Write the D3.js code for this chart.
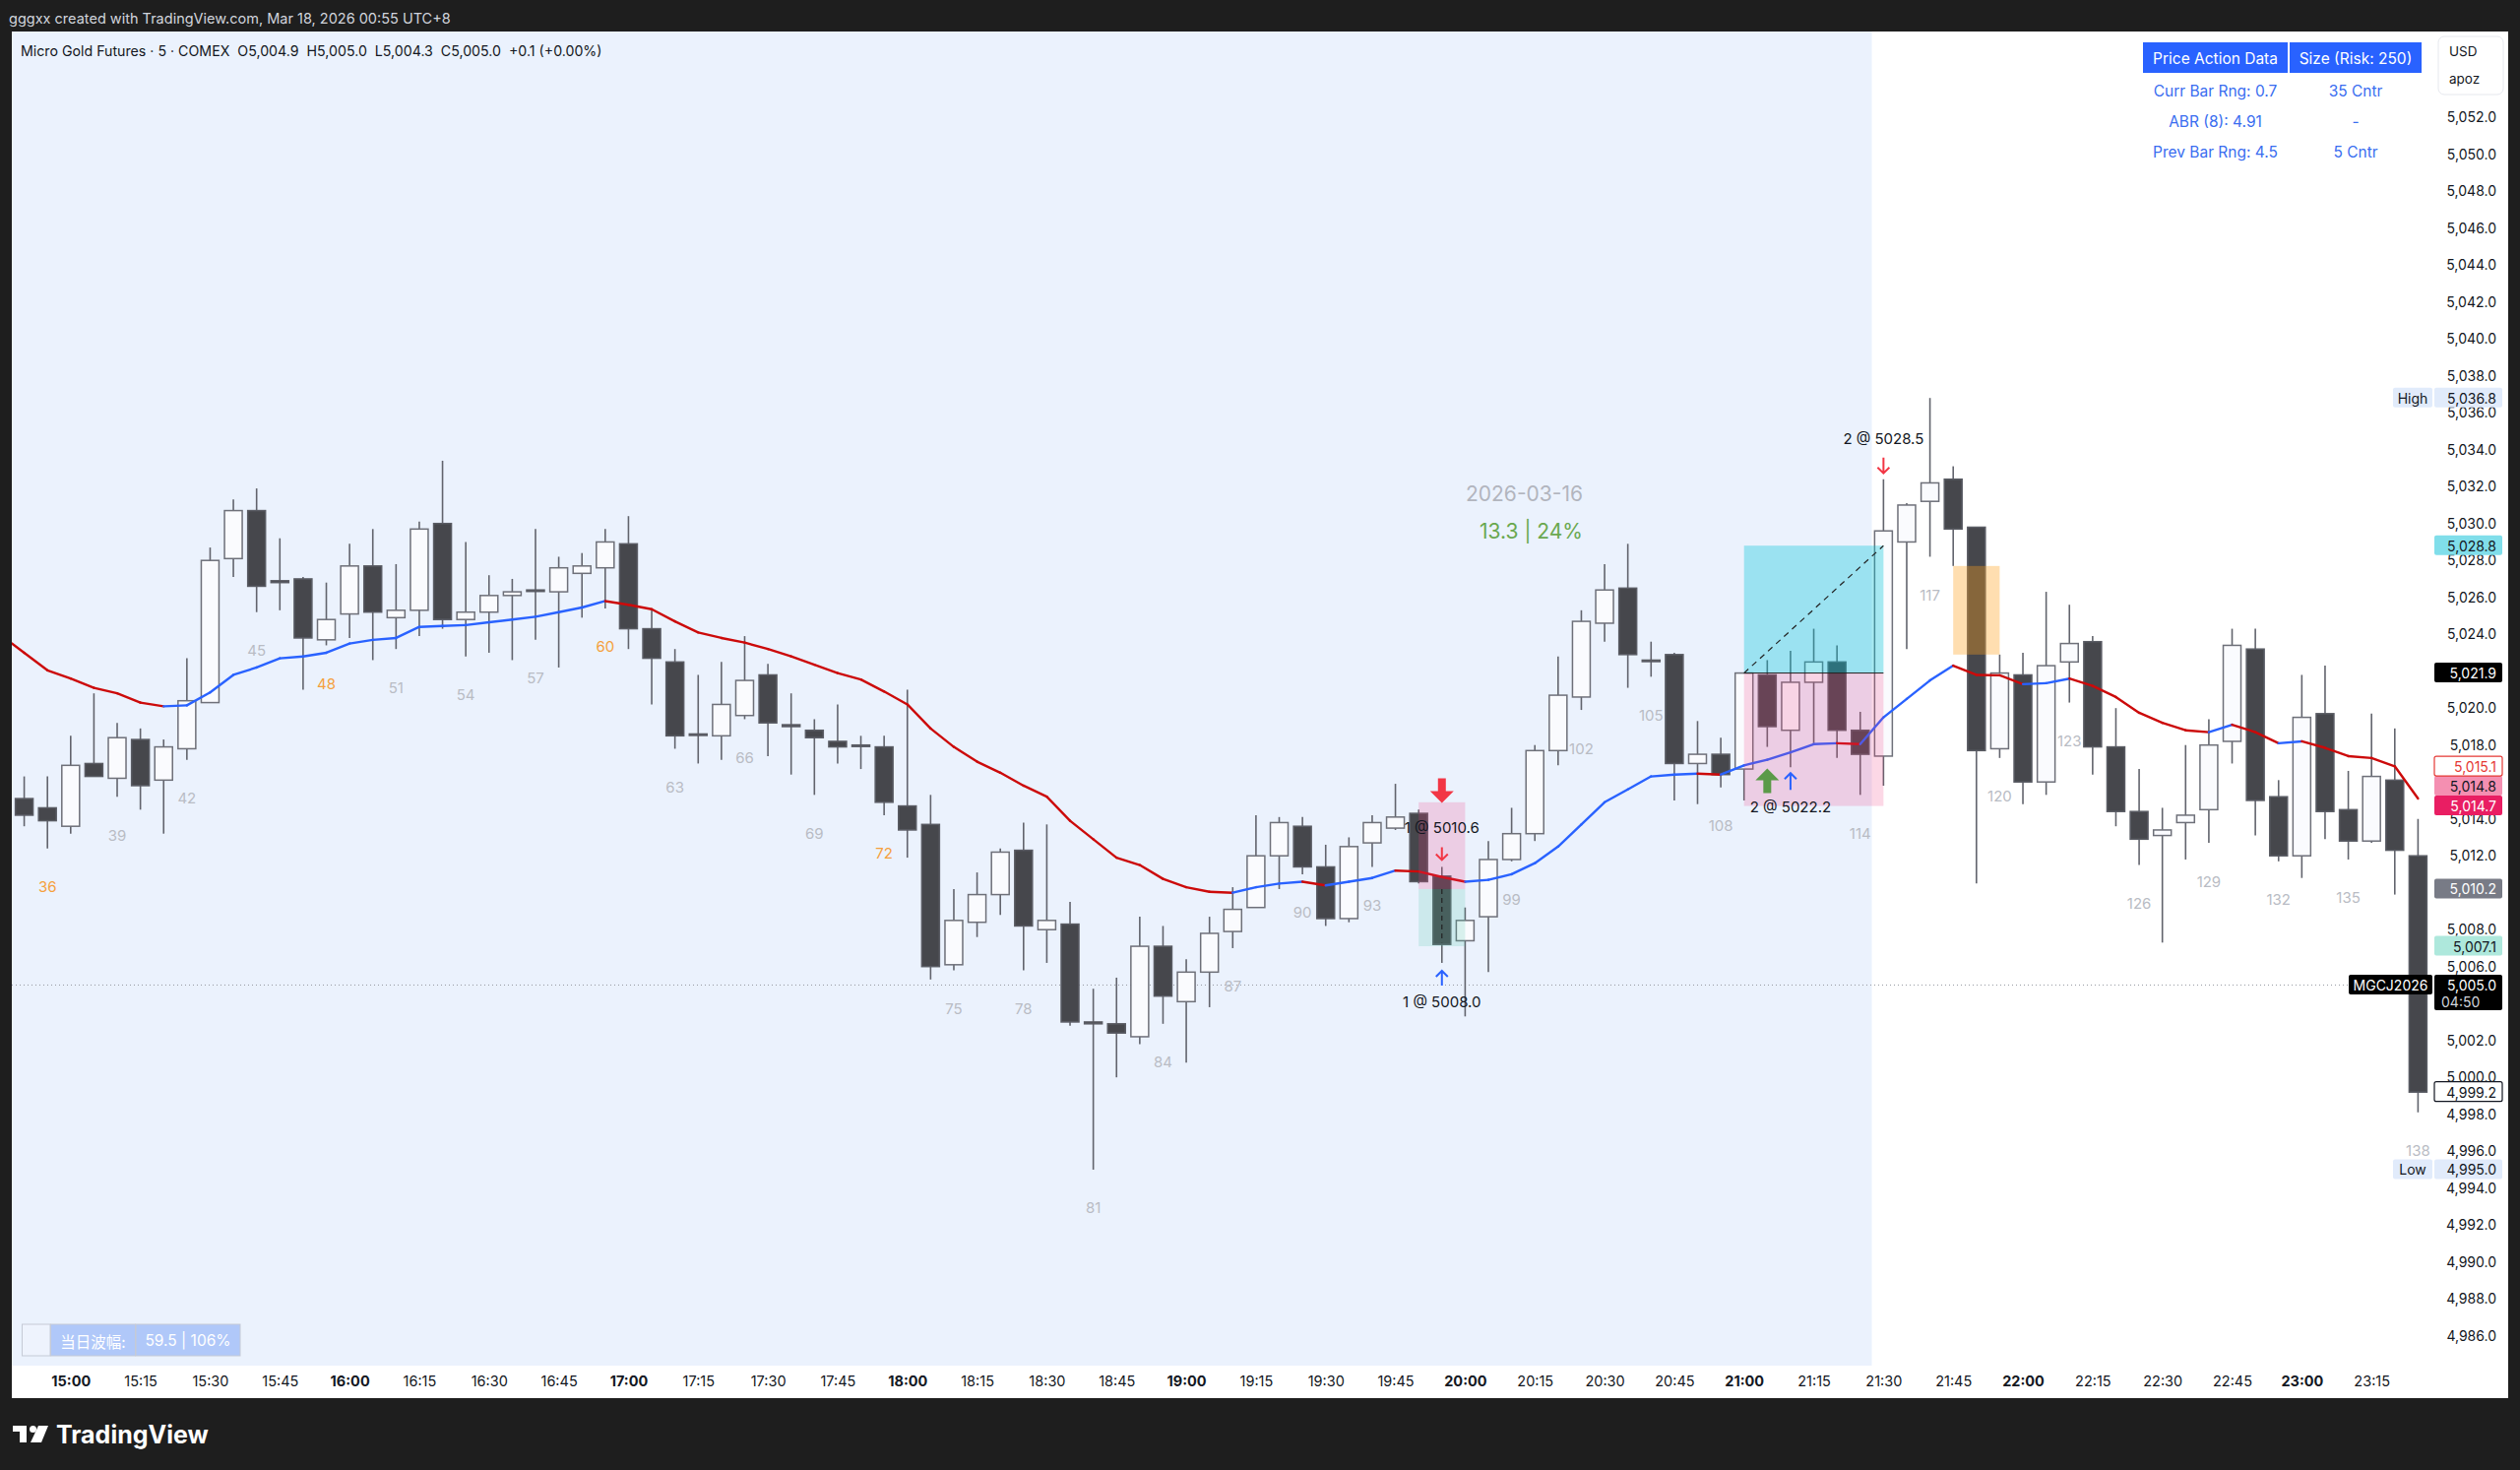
<!DOCTYPE html>
<html>
<head>
<meta charset="utf-8">
<script src="https://cdn.jsdelivr.net/npm/d3@7"></script>
<style>
  body { margin: 0; background: #1e1e1e; }
  svg { display: block; font-family: Inter, "Noto Sans", Roboto, sans-serif; }
  text { white-space: pre; }
</style>
</head>
<body>
<div id="chart"></div>
<script>
var svgWidth = 2560;
var svgHeight = 1493;

// bar numbers on the chart (bar 37 = 15:00)
var barNums = d3.range(35, 139);

var opens = [5015.1,5014.6,5013.6,5017.0,5016.2,5018.3,5016.1,5017.8,5020.3,5028.1,
  5030.7,5026.9,5027.0,5023.7,5025.1,5027.7,5024.9,5025.3,5030.0,5024.8,
  5025.2,5026.1,5026.4,5026.3,5027.3,5027.6,5028.9,5024.3,5022.5,5018.6,
  5018.5,5019.6,5021.8,5019.1,5018.8,5018.2,5018.0,5017.9,5014.7,5013.7,
  5006.1,5008.4,5009.9,5012.3,5008.0,5008.3,5003.0,5002.9,5002.2,5007.1,
  5004.1,5005.7,5007.9,5009.2,5012.0,5013.6,5011.4,5008.6,5012.7,5013.5,
  5014.3,5010.9,5007.4,5008.7,5011.8,5013.2,5017.7,5020.6,5024.6,5026.5,
  5022.6,5022.9,5017.0,5017.5,5016.7,5021.8,5018.8,5021.4,5022.5,5018.8,
  5017.4,5029.0,5031.2,5032.4,5029.8,5017.8,5021.8,5016.0,5022.5,5023.6,
  5017.9,5014.4,5013.1,5013.8,5014.5,5018.2,5023.2,5015.2,5012.0,5019.7,
  5014.5,5012.8,5016.1,5012.0];
var highs = [5016.3,5016.3,5018.5,5020.8,5019.2,5018.9,5018.3,5022.7,5028.7,5031.3,
  5031.9,5029.2,5027.1,5026.8,5028.9,5029.7,5027.8,5030.1,5033.4,5029.0,
  5027.2,5027.0,5029.7,5028.2,5028.4,5029.7,5030.4,5025.4,5023.2,5021.8,
  5022.5,5023.9,5022.4,5020.8,5019.4,5020.2,5018.5,5018.5,5021.0,5015.3,
  5010.2,5011.1,5012.4,5013.8,5013.7,5009.5,5004.8,5005.4,5008.7,5008.2,
  5006.4,5008.7,5010.3,5014.2,5014.1,5014.1,5012.6,5013.0,5014.2,5015.9,
  5014.5,5011.4,5009.2,5012.8,5014.6,5018.0,5022.8,5025.3,5027.8,5028.9,
  5023.6,5023.0,5019.3,5018.4,5021.9,5022.6,5023.1,5024.3,5023.4,5019.8,
  5032.4,5031.1,5036.8,5033.1,5029.8,5022.9,5023.0,5026.3,5025.6,5023.9,
  5020.0,5016.7,5014.6,5018.0,5019.4,5024.3,5024.3,5016.1,5021.8,5022.3,
  5016.6,5019.7,5018.9,5014.0];
var lows = [5013.6,5012.4,5013.2,5016.3,5015.2,5014.5,5013.2,5017.2,5020.3,5027.1,
  5025.2,5025.3,5021.0,5023.4,5023.8,5022.6,5023.2,5023.9,5024.3,5022.8,
  5023.0,5022.6,5023.7,5022.2,5024.9,5025.4,5023.2,5020.2,5017.8,5017.0,
  5017.2,5019.4,5017.4,5016.4,5015.3,5017.0,5016.7,5014.2,5011.9,5005.3,
  5005.8,5007.6,5008.8,5005.8,5006.2,5002.8,4995.0,5000.0,5001.8,5002.9,
  5000.8,5003.8,5007.0,5009.2,5010.2,5011.0,5008.2,5008.4,5011.4,5013.4,
  5010.5,5006.2,5003.3,5005.7,5011.7,5012.8,5016.9,5019.9,5023.6,5021.1,
  5021.7,5015.0,5014.8,5015.7,5015.0,5017.9,5016.8,5018.1,5017.3,5015.3,
  5015.8,5023.2,5028.2,5027.7,5010.5,5017.3,5014.8,5015.3,5020.3,5016.4,
  5013.6,5011.5,5007.3,5011.8,5012.7,5017.0,5013.1,5011.7,5010.8,5012.9,
  5011.8,5012.7,5009.9,4998.1];
var closes = [5014.2,5013.9,5016.9,5016.3,5018.4,5015.8,5017.9,5020.4,5028.0,5030.7,
  5026.6,5026.8,5023.8,5024.8,5027.7,5025.2,5025.3,5029.7,5024.8,5025.2,
  5026.1,5026.3,5026.4,5027.6,5027.7,5029.0,5024.3,5022.7,5018.5,5018.6,
  5020.2,5021.5,5019.2,5019.0,5018.4,5017.9,5018.0,5014.9,5013.4,5006.0,
  5008.5,5009.9,5012.2,5008.2,5008.5,5003.0,5002.9,5002.4,5007.1,5004.4,
  5005.7,5007.8,5009.1,5012.0,5013.8,5011.4,5008.6,5012.5,5013.8,5014.1,
  5010.6,5007.2,5008.5,5011.8,5013.2,5017.7,5020.7,5024.7,5026.4,5022.9,
  5022.6,5017.0,5017.5,5016.4,5021.9,5019.0,5021.4,5022.5,5018.8,5017.5,
  5029.6,5031.0,5032.2,5029.7,5017.7,5021.9,5016.0,5022.3,5023.5,5017.9,
  5014.4,5012.9,5013.4,5014.2,5018.0,5023.4,5015.0,5012.0,5019.5,5014.4,
  5012.8,5016.3,5012.3,4999.2];
var emaValues = [5023.0,5022.05,5021.6,5021.1,5020.8,5020.3,5020.1,5020.15,5020.85,5021.8,
  5022.2,5022.7,5022.8,5023.0,5023.5,5023.7,5023.8,5024.4,5024.45,5024.5,
  5024.65,5024.8,5024.95,5025.2,5025.45,5025.8,5025.6,5025.36,5024.7,5024.1,
  5023.8,5023.55,5023.2,5022.8,5022.35,5021.9,5021.55,5020.9,5020.2,5018.9,
  5017.9,5017.1,5016.5,5015.8,5015.2,5013.9,5012.9,5011.9,5011.5,5010.75,
  5010.3,5010.05,5010.0,5010.3,5010.5,5010.6,5010.4,5010.6,5010.8,5011.2,
  5011.15,5010.85,5010.6,5010.7,5011.0,5011.6,5012.5,5013.7,5014.9,5015.6,
  5016.3,5016.4,5016.45,5016.4,5016.9,5017.2,5017.6,5018.05,5018.1,5018.05,
  5019.5,5020.5,5021.5,5022.3,5021.8,5021.78,5021.3,5021.35,5021.6,5021.2,
  5020.6,5019.75,5019.2,5018.8,5018.7,5019.1,5018.7,5018.1,5018.2,5017.85,
  5017.4,5017.3,5016.85,5015.1];
// EMA value where the line enters at the left edge of the chart
var emaLeftEdge = 5023.5;

var timeLabels = ["15:00","15:15","15:30","15:45","16:00","16:15","16:30","16:45",
  "17:00","17:15","17:30","17:45","18:00","18:15","18:30","18:45","19:00","19:15",
  "19:30","19:45","20:00","20:15","20:30","20:45","21:00","21:15","21:30","21:45",
  "22:00","22:15","22:30","22:45","23:00","23:15"];
var priceTicks = d3.range(4986, 5053, 2);
var barLabelNums = [36,39,42,45,48,51,54,57,60,63,66,69,72,75,78,81,84,87,90,93,
  99,102,105,108,114,117,120,123,126,129,132,135,138];
var orangeLabelNums = [36,48,60,72];

// position tools and gap
var shortBox = {from: 95, to: 97, stop: 5014.9, entry: 5010.2, target: 5007.1};
var longBox = {from: 109, to: 115, target: 5028.8, entry: 5021.9, stop: 5014.7};
var gapBox = {from: 118, to: 120, top: 5027.7, bottom: 5022.9};

var markPrices = [4995.0, 4999.2, 5005.0, 5007.1, 5010.2, 5014.7, 5014.8, 5015.1, 5021.9, 5028.8, 5036.8];
var markTexts = ["4,995.0","4,999.2","5,005.0","5,007.1","5,010.2","5,014.7","5,014.8","5,015.1","5,021.9","5,028.8","5,036.8"];

var tableHead = ["Price Action Data", "Size (Risk: 250)"];
var tableRows = [["Curr Bar Rng: 0.7", "35 Cntr"], ["ABR (8): 4.91", "-"], ["Prev Bar Rng: 4.5", "5 Cntr"]];

var svg = d3.select("#chart").append("svg")
  .attr("width", svgWidth)
  .attr("height", svgHeight);

svg.append("rect").attr("width", svgWidth).attr("height", svgHeight).attr("fill", "#1e1e1e");
svg.append("rect").attr("x", 12).attr("y", 32).attr("width", 2536).attr("height", 1388).attr("fill", "#ffffff");

var x = d3.scaleLinear().domain([37, 138]).range([71.8, 2456.4]);
var y = d3.scaleLinear().domain([5000, 5026]).range([1094.2, 606.7]);

svg.append("defs").append("clipPath").attr("id", "plotclip")
  .append("rect").attr("x", 12).attr("y", 32).attr("width", 2458).attr("height", 1355);

var plot = svg.append("g").attr("clip-path", "url(#plotclip)");

// session background (before 21:30)
plot.append("rect")
  .attr("x", 12).attr("y", 32)
  .attr("width", x(114.5) - 12).attr("height", 1355)
  .attr("fill", "#ebf2fd");

// last price line
plot.append("line")
  .attr("x1", 12).attr("x2", 2470)
  .attr("y1", y(5005.0)).attr("y2", y(5005.0))
  .attr("stroke", "#9598a1").attr("stroke-width", 1).attr("stroke-dasharray", "1,3");

var bars = barNums.map(function (n, i) {
  return {n: n, o: opens[i], h: highs[i], l: lows[i], c: closes[i]};
});

// wicks
plot.selectAll(".wick").data(bars).enter().append("line")
  .attr("x1", d => x(d.n)).attr("x2", d => x(d.n))
  .attr("y1", d => y(d.h)).attr("y2", d => y(d.l))
  .attr("stroke", "#62646d").attr("stroke-width", 1.6);

var bodyW = 18;
plot.selectAll(".body").data(bars).enter().append("rect")
  .attr("x", d => x(d.n) - bodyW / 2)
  .attr("y", d => y(Math.max(d.o, d.c)))
  .attr("width", bodyW)
  .attr("height", d => Math.max(1.5, Math.abs(y(d.o) - y(d.c))))
  .attr("fill", d => d.c > d.o ? "#fafbfe" : "#46474c")
  .attr("stroke", d => d.c > d.o ? "#6e7079" : "#5a5c64")
  .attr("stroke-width", 1.5);

// EMA, coloured by direction
var emaPts = [[x.invert(12), emaLeftEdge]].concat(barNums.map((n, i) => [n, emaValues[i]]));
plot.selectAll(".ema").data(d3.pairs(emaPts)).enter().append("line")
  .attr("x1", d => x(d[0][0])).attr("y1", d => y(d[0][1]))
  .attr("x2", d => x(d[1][0])).attr("y2", d => y(d[1][1]))
  .attr("stroke", d => d[1][1] >= d[0][1] ? "#2962ff" : "#cc0a0a")
  .attr("stroke-width", 2.4).attr("stroke-linecap", "round");

// short position tool
plot.append("rect")
  .attr("x", x(shortBox.from)).attr("width", x(shortBox.to) - x(shortBox.from))
  .attr("y", y(shortBox.stop)).attr("height", y(shortBox.entry) - y(shortBox.stop))
  .attr("fill", "rgba(240,62,128,0.2)");
plot.append("rect")
  .attr("x", x(shortBox.from)).attr("width", x(shortBox.to) - x(shortBox.from))
  .attr("y", y(shortBox.entry)).attr("height", y(shortBox.target) - y(shortBox.entry))
  .attr("fill", "rgba(80,200,170,0.2)");
plot.append("line")
  .attr("x1", x(96)).attr("x2", x(96))
  .attr("y1", y(shortBox.entry)).attr("y2", y(5007.3))
  .attr("stroke", "#222").attr("stroke-width", 1.2).attr("stroke-dasharray", "5,4");

// long position tool
plot.append("rect")
  .attr("x", x(longBox.from)).attr("width", x(longBox.to) - x(longBox.from))
  .attr("y", y(longBox.target)).attr("height", y(longBox.entry) - y(longBox.target))
  .attr("fill", "rgba(0,196,216,0.34)");
plot.append("rect")
  .attr("x", x(longBox.from)).attr("width", x(longBox.to) - x(longBox.from))
  .attr("y", y(longBox.entry)).attr("height", y(longBox.stop) - y(longBox.entry))
  .attr("fill", "rgba(240,62,128,0.2)");
plot.append("line")
  .attr("x1", x(longBox.from)).attr("x2", x(longBox.to))
  .attr("y1", y(longBox.entry)).attr("y2", y(longBox.entry))
  .attr("stroke", "#222").attr("stroke-width", 1);
plot.append("line")
  .attr("x1", x(longBox.from)).attr("y1", y(longBox.entry))
  .attr("x2", x(longBox.to)).attr("y2", y(longBox.target))
  .attr("stroke", "#222").attr("stroke-width", 1.2).attr("stroke-dasharray", "6,5");

// fair value gap
plot.append("rect")
  .attr("x", x(gapBox.from)).attr("width", x(gapBox.to) - x(gapBox.from))
  .attr("y", y(gapBox.top)).attr("height", y(gapBox.bottom) - y(gapBox.top))
  .attr("fill", "rgba(255,160,30,0.35)");

// bar numbers
var barByNum = {};
bars.forEach(d => barByNum[d.n] = d);
plot.selectAll(".barnum").data(barLabelNums).enter().append("text")
  .attr("x", d => x(d))
  .attr("y", d => y(barByNum[d].l) + 39)
  .attr("text-anchor", "middle").attr("dominant-baseline", "central")
  .attr("font-size", 15)
  .attr("fill", d => orangeLabelNums.indexOf(d) >= 0 ? "#f5a03c" : "#b9bcc4")
  .text(d => d);

// trade markers
function smallArrow(cx, yTop, yBot, down, color) {
  var tip = down ? yBot : yTop;
  var back = down ? tip - 6 : tip + 6;
  plot.append("path")
    .attr("d", "M" + cx + "," + yTop + "V" + yBot + "M" + (cx - 6) + "," + back + "L" + cx + "," + tip + "L" + (cx + 6) + "," + back)
    .attr("stroke", color).attr("stroke-width", 2).attr("fill", "none");
}
function bigArrow(cx, tipY, down, color) {
  var s = down ? -1 : 1;
  var pts = [[cx, tipY], [cx + 12, tipY + s * 12], [cx + 4, tipY + s * 12], [cx + 4, tipY + s * 25],
    [cx - 4, tipY + s * 25], [cx - 4, tipY + s * 12], [cx - 12, tipY + s * 12]];
  plot.append("polygon").attr("points", pts.map(p => p.join(",")).join(" ")).attr("fill", color);
}
function tradeText(cx, cy, t) {
  plot.append("text").attr("x", cx).attr("y", cy)
    .attr("text-anchor", "middle").attr("dominant-baseline", "central")
    .attr("font-size", 15).attr("fill", "#131722").text(t);
}

var b96 = barByNum[96], b110 = barByNum[110], b111 = barByNum[111], b115 = barByNum[115];
bigArrow(x(96), y(b96.h) - 65, true, "#f23645");
tradeText(x(96), y(b96.h) - 40, "1 @ 5010.6");
smallArrow(x(96), y(b96.h) - 20, y(b96.h) - 7, true, "#f23645");
smallArrow(x(96), y(b96.l) + 8, y(b96.l) + 23, false, "#2962ff");
tradeText(x(96), y(b96.l) + 40, "1 @ 5008.0");

bigArrow(x(110), y(b110.l) + 22, false, "#5b9a48");
smallArrow(x(111), y(b111.l) + 6, y(b111.l) + 23, false, "#2962ff");
tradeText(x(111), y(b111.l) + 40, "2 @ 5022.2");

smallArrow(x(115), y(b115.h) - 22, y(b115.h) - 6, true, "#f23645");
tradeText(x(115), y(b115.h) - 41, "2 @ 5028.5");

// session label
plot.append("text").attr("x", 1608).attr("y", 501).attr("text-anchor", "end")
  .attr("dominant-baseline", "central").attr("font-size", 21).attr("fill", "#b2b5be")
  .text("2026-03-16");
plot.append("text").attr("x", 1608).attr("y", 539).attr("text-anchor", "end")
  .attr("dominant-baseline", "central").attr("font-size", 21).attr("fill", "#6aa84f")
  .text("13.3 | 24%");

// bottom-left range box
var rb = svg.append("g");
rb.append("rect").attr("x", 22.5).attr("y", 1345).attr("width", 28.5).attr("height", 32)
  .attr("fill", "#eef3fd").attr("stroke", "#c5cad6");
rb.append("rect").attr("x", 51.5).attr("y", 1345).attr("width", 86).attr("height", 32)
  .attr("fill", "#b0c8f9").attr("stroke", "#c5cad6");
rb.append("rect").attr("x", 138).attr("y", 1345).attr("width", 106).attr("height", 32)
  .attr("fill", "#b0c8f9").attr("stroke", "#c5cad6");
rb.append("text").attr("x", 94.5).attr("y", 1361.5).attr("text-anchor", "middle")
  .attr("dominant-baseline", "central").attr("font-size", 15.5).attr("fill", "#ffffff")
  .attr("font-family", "'Noto Sans CJK SC', Inter, sans-serif").text("当日波幅:");
rb.append("text").attr("x", 191).attr("y", 1361.5).attr("text-anchor", "middle")
  .attr("dominant-baseline", "central").attr("font-size", 15.5).attr("fill", "#ffffff")
  .text("59.5 | 106%");

// header texts
svg.append("text").attr("x", 9).attr("y", 18).attr("dominant-baseline", "central")
  .attr("font-size", 14.5).attr("fill", "#d1d4dc")
  .text("gggxx created with TradingView.com, Mar 18, 2026 00:55 UTC+8");
svg.append("text").attr("x", 21).attr("y", 51).attr("dominant-baseline", "central")
  .attr("font-size", 14.2).attr("fill", "#131722")
  .text("Micro Gold Futures · 5 · COMEX  O5,004.9  H5,005.0  L5,004.3  C5,005.0  +0.1 (+0.00%)");

// table
var tb = svg.append("g");
var colX = [2177, 2326], colW = [147, 134];
tableHead.forEach(function (t, i) {
  tb.append("rect").attr("x", colX[i]).attr("y", 43).attr("width", colW[i]).attr("height", 31).attr("fill", "#2962ff");
  tb.append("text").attr("x", colX[i] + colW[i] / 2).attr("y", 59).attr("text-anchor", "middle")
    .attr("dominant-baseline", "central").attr("font-size", 15.5).attr("fill", "#ffffff").text(t);
});
tableRows.forEach(function (row, r) {
  row.forEach(function (t, i) {
    tb.append("text").attr("x", colX[i] + colW[i] / 2).attr("y", 92 + r * 31)
      .attr("text-anchor", "middle").attr("dominant-baseline", "central")
      .attr("font-size", 15.5).attr("fill", "#3a6df0").text(t);
  });
});

// price marks on the axis, stacked when they collide
var prevY = 1e9;
var marks = markPrices.map(function (p, i) {
  var cy = y(p);
  if (cy > prevY - 20) cy = prevY - 20;
  prevY = cy;
  return {p: p, t: markTexts[i], cy: cy, h: markTexts[i] === "5,005.0" ? 36 : 20};
});

// price axis; ticks fully hidden under a mark are left out
var axisG = svg.append("g").attr("transform", "translate(2470,0)")
  .call(d3.axisRight(y).tickValues(priceTicks).tickSize(0).tickFormat(d3.format(",.1f")));
axisG.select(".domain").remove();
axisG.selectAll("text").attr("x", 66).attr("text-anchor", "end")
  .attr("font-size", 14).attr("fill", "#131722").attr("font-family", "Inter, sans-serif");
axisG.selectAll(".tick").filter(function (d) {
  var ty = y(d);
  if (ty < 110) return true;
  return marks.some(m => ty > m.cy - 10.5 - 2 && ty < m.cy - 10.5 + m.h + 2);
}).remove();

// USD box
svg.append("rect").attr("x", 2477).attr("y", 37).attr("width", 66).attr("height", 59).attr("rx", 6)
  .attr("fill", "#ffffff").attr("stroke", "#e6e8ee");
svg.append("text").attr("x", 2488).attr("y", 52).attr("dominant-baseline", "central")
  .attr("font-size", 13.5).attr("fill", "#131722").text("USD");
svg.append("text").attr("x", 2488).attr("y", 80).attr("dominant-baseline", "central")
  .attr("font-size", 13.5).attr("fill", "#131722").text("apoz");

var markStyle = {
  "4,995.0": {bg: "#e1ebfb", fg: "#131722"},
  "4,999.2": {bg: "#ffffff", fg: "#131722", stroke: "#131722"},
  "5,005.0": {bg: "#000000", fg: "#ffffff"},
  "5,007.1": {bg: "#aee8dc", fg: "#131722"},
  "5,010.2": {bg: "#787b86", fg: "#ffffff"},
  "5,014.7": {bg: "#e91e63", fg: "#ffffff"},
  "5,014.8": {bg: "#f48fb1", fg: "#131722"},
  "5,015.1": {bg: "#ffffff", fg: "#e53935", stroke: "#e53935"},
  "5,021.9": {bg: "#000000", fg: "#ffffff"},
  "5,028.8": {bg: "#80deea", fg: "#131722"},
  "5,036.8": {bg: "#e1ebfb", fg: "#131722"}
};
var mg = svg.append("g");
marks.forEach(function (m) {
  var st = markStyle[m.t];
  mg.append("rect").attr("x", 2473).attr("y", m.cy - 10.5).attr("width", 69).attr("height", m.h).attr("rx", 2)
    .attr("fill", st.bg).attr("stroke", st.stroke || "none").attr("stroke-width", 1.2);
  mg.append("text").attr("x", 2536).attr("y", m.cy).attr("text-anchor", "end")
    .attr("dominant-baseline", "central").attr("font-size", 14).attr("fill", st.fg).text(m.t);
  if (m.t === "5,005.0") {
    mg.append("text").attr("x", 2480).attr("y", m.cy + 17).attr("dominant-baseline", "central")
      .attr("font-size", 14).attr("fill", "#d1d4dc").text("04:50");
    mg.append("rect").attr("x", 2386).attr("y", m.cy - 10.5).attr("width", 85).attr("height", 20).attr("rx", 2)
      .attr("fill", "#000000");
    mg.append("text").attr("x", 2428.5).attr("y", m.cy).attr("text-anchor", "middle")
      .attr("dominant-baseline", "central").attr("font-size", 14).attr("fill", "#ffffff").text("MGCJ2026");
  }
  if (m.t === "5,036.8" || m.t === "4,995.0") {
    mg.append("rect").attr("x", 2431).attr("y", m.cy - 10.5).attr("width", 40).attr("height", 20).attr("rx", 2)
      .attr("fill", st.bg);
    mg.append("text").attr("x", 2451).attr("y", m.cy).attr("text-anchor", "middle")
      .attr("dominant-baseline", "central").attr("font-size", 14).attr("fill", "#131722")
      .text(m.t === "5,036.8" ? "High" : "Low");
  }
});

// time axis
var timeG = svg.append("g").attr("transform", "translate(0,1395)")
  .call(d3.axisBottom(x).tickValues(timeLabels.map((d, i) => 37 + 3 * i))
    .tickSize(0).tickFormat((d, i) => timeLabels[i]));
timeG.select(".domain").remove();
timeG.selectAll("text").attr("font-size", 14.5).attr("fill", "#131722")
  .attr("font-family", "Inter, sans-serif")
  .attr("font-weight", (d, i) => timeLabels[i].slice(3) === "00" ? 700 : 400);

// TradingView footer
var logo = svg.append("g").attr("fill", "#ffffff");
logo.append("rect").attr("x", 13).attr("y", 1448).attr("width", 14).attr("height", 6);
logo.append("rect").attr("x", 20).attr("y", 1448).attr("width", 7).attr("height", 17);
logo.append("circle").attr("cx", 33.5).attr("cy", 1451.5).attr("r", 3.5);
logo.append("polygon").attr("points", "39,1448 49,1448 42,1465 31,1465");
svg.append("text").attr("x", 57).attr("y", 1457).attr("dominant-baseline", "central")
  .attr("font-size", 25).attr("font-weight", 700).attr("fill", "#ffffff").text("TradingView");
</script>
</body>
</html>
